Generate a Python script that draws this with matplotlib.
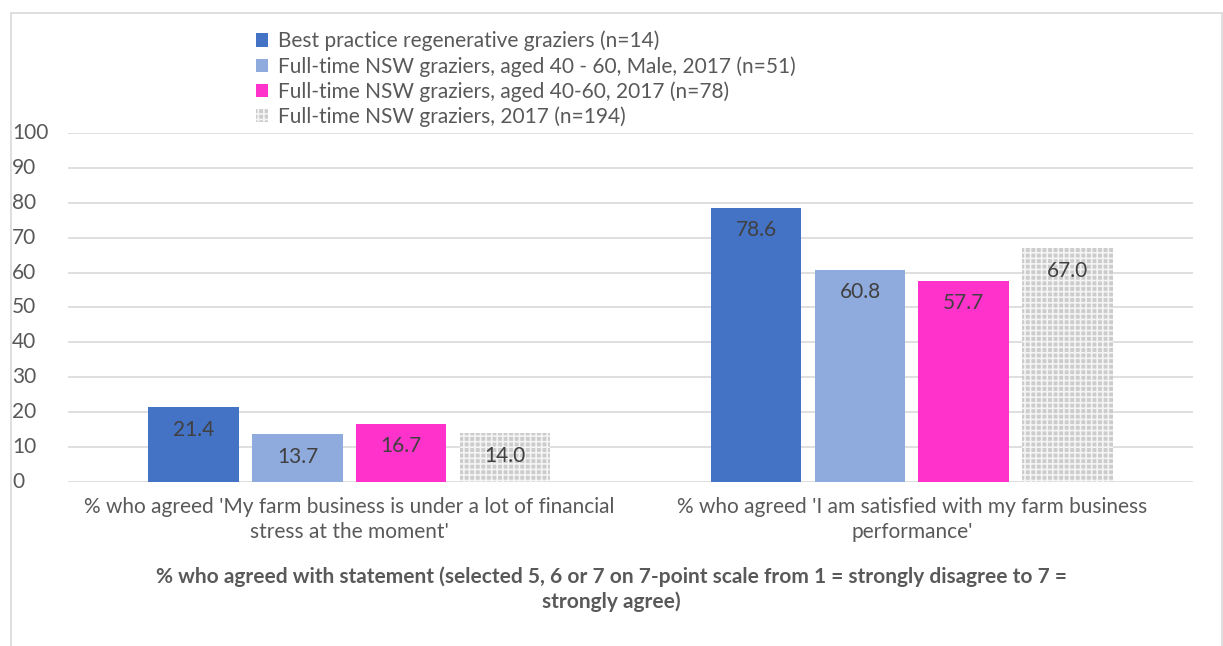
import matplotlib.pyplot as plt
import matplotlib.patches as mpatches
import matplotlib.transforms as mtransforms
import numpy as np

plt.rcParams['font.family'] = ['Lato', 'DejaVu Sans']
plt.rcParams['hatch.linewidth'] = 1.2

# data
categories = ["% who agreed 'My farm business is under a lot of financial\nstress at the moment'",
              "% who agreed 'I am satisfied with my farm business\nperformance'"]
series_names = ["Best practice regenerative graziers (n=14)",
                "Full-time NSW graziers, aged 40 - 60, Male, 2017 (n=51)",
                "Full-time NSW graziers, aged 40-60, 2017 (n=78)",
                "Full-time NSW graziers, 2017 (n=194)"]
best_practice = [21.4, 78.6]
male_40_60 = [13.7, 60.8]
aged_40_60 = [16.7, 57.7]
all_nsw = [14.0, 67.0]
yticks = [0, 10, 20, 30, 40, 50, 60, 70, 80, 90, 100]

values = [best_practice, male_40_60, aged_40_60, all_nsw]
colors = ['#4472c4', '#8faadc', '#ff33cc', '#cccccc']
txt = '#595959'

fig = plt.figure(figsize=(12.23, 6.46), dpi=100)
ax = fig.add_axes([0.0556, 0.2539, 0.92, 0.5402])

x = np.arange(len(categories))
w = 0.161
step = 0.1845
for i, (vals, c) in enumerate(zip(values, colors)):
    pos = x + (i - 1.5) * step
    if i == 3:
        bars = ax.bar(pos, vals, w, color=c, hatch='+++', edgecolor='#f4f4f4',
                      linewidth=0, label=series_names[i], zorder=2)
    else:
        bars = ax.bar(pos, vals, w, color=c, label=series_names[i], zorder=2)
    for b, v in zip(bars, vals):
        ax.annotate(f'{v:.1f}', (b.get_x() + b.get_width() / 2, v),
                    xytext=(0, -9), textcoords='offset points',
                    ha='center', va='top', fontsize=15, color='#404040', zorder=3)

ax.set_xlim(-0.5, 1.5)
ax.set_ylim(0, 100)
ax.set_yticks(yticks)
ax.set_yticklabels([])
ax.yaxis.grid(True, color='#d9d9d9', linewidth=1.2, zorder=0)
ax.set_axisbelow(True)
for s in ax.spines.values():
    s.set_visible(False)
ax.tick_params(axis='both', length=0, colors=txt)

# y tick labels, left aligned like the original
trans = mtransforms.blended_transform_factory(fig.transFigure, ax.transData)
for t in yticks:
    ax.text(12 / 1223, t, str(t), transform=trans, ha='left', va='center',
            fontsize=15, color=txt)

ax.set_xticks(x)
ax.set_xticklabels(categories, fontsize=15, color=txt, linespacing=1.3)
ax.tick_params(axis='x', pad=11)

fig.text(0.5, 0.088, '% who agreed with statement (selected 5, 6 or 7 on 7-point scale from 1 = strongly disagree to 7 =\nstrongly agree)',
         ha='center', va='center', fontsize=15, fontweight='bold', color=txt, linespacing=1.3)

leg = fig.legend(loc='upper left', bbox_to_anchor=(0.197, 0.975), frameon=False,
                 fontsize=15, labelcolor=txt, handlelength=0.6, handleheight=0.6,
                 handletextpad=0.5, labelspacing=0.22, borderpad=0.2)

# chart border
fig.patches.append(mpatches.Rectangle((11 / 1223, -0.05), 1211 / 1223, 1.05 - 13 / 646,
                                      transform=fig.transFigure, fill=False,
                                      edgecolor='#d9d9d9', linewidth=1.2))

fig.savefig('out.png', dpi=100)
